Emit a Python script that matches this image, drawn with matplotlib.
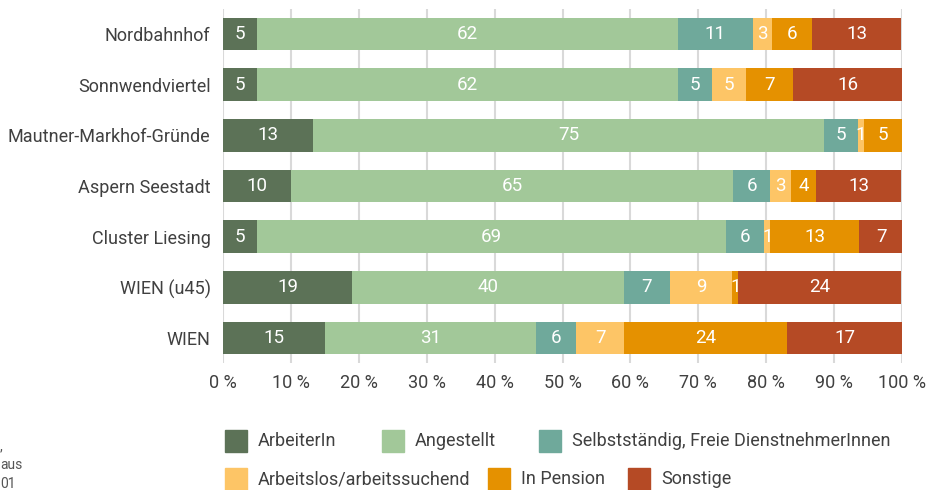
import matplotlib
matplotlib.use("Agg")
import matplotlib.pyplot as plt
from matplotlib.patches import Rectangle

plt.rcParams['font.family'] = ['Roboto', 'DejaVu Sans']

categories = ["Nordbahnhof", "Sonnwendviertel", "Mautner-Markhof-Gründe",
              "Aspern Seestadt", "Cluster Liesing", "WIEN (u45)", "WIEN"]
series = ["ArbeiterIn", "Angestellt", "Selbstständig, Freie DienstnehmerInnen",
          "Arbeitslos/arbeitssuchend", "In Pension", "Sonstige"]
arbeiter     = [5.0, 5.0, 13.3, 10.0, 5.0, 19.0, 15.0]
angestellt   = [62.0, 62.0, 75.2, 65.1, 69.1, 40.0, 31.1]
selbst       = [11.0, 5.0, 5.0, 5.5, 5.6, 6.9, 5.9]
arbeitslos   = [2.8, 5.0, 0.9, 3.1, 0.9, 9.1, 7.1]
pension      = [6.0, 7.0, 5.6, 3.7, 13.1, 0.9, 24.0]
sonstige     = [13.1, 16.0, 0.0, 12.5, 6.5, 24.0, 16.9]
labels_arbeiter   = ["5", "5", "13", "10", "5", "19", "15"]
labels_angestellt = ["62", "62", "75", "65", "69", "40", "31"]
labels_selbst     = ["11", "5", "5", "6", "6", "7", "6"]
labels_arbeitslos = ["3", "5", "1", "3", "1", "9", "7"]
labels_pension    = ["6", "7", "5", "4", "13", "1", "24"]
labels_sonstige   = ["13", "16", "", "13", "7", "24", "17"]
xticks = [0, 10, 20, 30, 40, 50, 60, 70, 80, 90, 100]
xticklabels = [f"{t} %" for t in xticks]

colors = ["#5c7257", "#a2c899", "#6fa99b", "#fdc566", "#e59100", "#b54a25"]
data = [arbeiter, angestellt, selbst, arbeitslos, pension, sonstige]
labs = [labels_arbeiter, labels_angestellt, labels_selbst, labels_arbeitslos,
        labels_pension, labels_sonstige]

textcol = '#404040'
fs = 13

fig = plt.figure(figsize=(9.35, 4.9), dpi=100)
ax = fig.add_axes([223/935, 1-363.3/490, (902-223)/935, (363.3-8.7)/490])

ypos = list(range(len(categories)))
left = [0.0]*len(categories)
for vals, lab, col in zip(data, labs, colors):
    ax.barh(ypos, vals, left=left, height=0.65, color=col, zorder=3, linewidth=0)
    for i, (v, l) in enumerate(zip(vals, lab)):
        if l:
            ax.text(left[i] + v/2, ypos[i], l, ha='center', va='center',
                    color='white', fontsize=13.5, zorder=4)
    left = [a + b for a, b in zip(left, vals)]

ax.set_ylim(6.5, -0.5)
ax.set_xlim(0, 100)
ax.set_yticks(ypos)
ax.set_yticklabels(categories, fontsize=fs, color=textcol)
ax.set_xticks(xticks)
ax.set_xticklabels(xticklabels, fontsize=fs, color=textcol)
ax.tick_params(axis='y', length=0, pad=9)
ax.tick_params(axis='x', length=0, pad=8)
for s in ax.spines.values():
    s.set_visible(False)
ax.grid(axis='x', color='#d9d9d9', linewidth=1.5, zorder=0)
ax.set_axisbelow(True)

# legend (manual, row-wise flow)
leg_items = [(225, 441, 0), (382, 441, 1), (539, 441, 2),
             (225, 479, 3), (488, 479, 4), (628, 479, 5)]
for x, y, k in leg_items:
    fig.patches.append(Rectangle((x/935, 1-(y+11)/490), 22/935, 22/490,
                                 transform=fig.transFigure, color=colors[k]))
    fig.text((x+33)/935, 1-y/490, series[k], ha='left', va='center',
             fontsize=fs, color=textcol)

# cropped source note fragments at left edge
for txt, y in [(",", 446), ("aus", 465), ("01", 484)]:
    fig.text(0, 1-y/490, txt, ha='left', va='center', fontsize=10, color='#555555')

fig.savefig("out.png", dpi=100)
